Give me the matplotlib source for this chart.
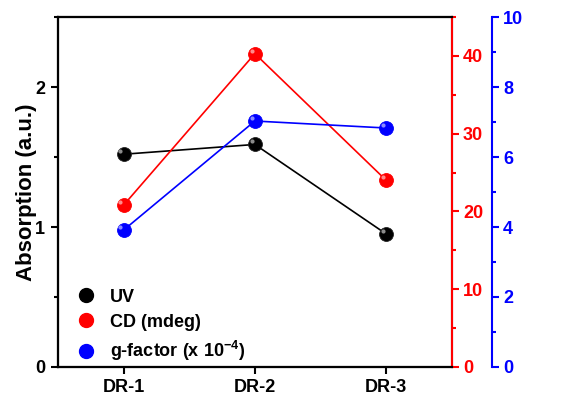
import matplotlib.pyplot as plt
from matplotlib.lines import Line2D
from matplotlib.ticker import MultipleLocator
from matplotlib.transforms import offset_copy

plt.rcParams["font.family"] = ["Liberation Sans", "DejaVu Sans"]
plt.rcParams["font.weight"] = "bold"
plt.rcParams["mathtext.fontset"] = "custom"
plt.rcParams["mathtext.bf"] = "Liberation Sans:bold"
plt.rcParams["mathtext.default"] = "bf"

samples = ["DR-1", "DR-2", "DR-3"]
uv = [1.52, 1.59, 0.95]
cd = [20.8, 40.3, 24.0]
gfactor = [3.91, 7.03, 6.83]

xpos = [1, 2, 3]
MS = 10
FS = 13


def sphere(ax, y, color, fig):
    ax.plot(xpos, y, "-", color=color, lw=1.2, zorder=2)
    ax.plot(xpos, y, "o", color=color, ms=MS, mec="#222222" if color == "black" else color,
            mew=0.6, zorder=3)
    hl = offset_copy(ax.transData, fig=fig, x=-2.2, y=2.2, units="points")
    ax.plot(xpos, y, "o", color="white", alpha=0.55, ms=3, mew=0, transform=hl, zorder=4)


fig = plt.figure(figsize=(5.67, 3.98), dpi=100)
ax = fig.add_axes([0.102, 0.078, 0.695, 0.879])
ax2 = ax.twinx()
ax3 = ax.twinx()
ax3.spines["right"].set_position(("axes", 1.1015))

sphere(ax, uv, "black", fig)
sphere(ax2, cd, "red", fig)
sphere(ax3, gfactor, "blue", fig)

ax.set_xlim(0.5, 3.5)
ax.set_ylim(0, 2.5)
ax2.set_ylim(0, 45)
ax3.set_ylim(0, 10)

ax.set_xticks(xpos)
ax.set_xticklabels(samples, fontsize=FS, fontweight="bold")
ax.yaxis.set_major_locator(MultipleLocator(1))
ax.yaxis.set_minor_locator(MultipleLocator(0.5))
ax2.yaxis.set_major_locator(MultipleLocator(10))
ax2.yaxis.set_minor_locator(MultipleLocator(5))
ax3.yaxis.set_major_locator(MultipleLocator(2))
ax3.yaxis.set_minor_locator(MultipleLocator(1))

ax.set_ylabel("Absorption (a.u.)", fontsize=16, fontweight="bold", labelpad=-1)

for a in (ax, ax2, ax3):
    for s in a.spines.values():
        s.set_linewidth(1.5)
ax.tick_params(axis="both", which="major", length=5, width=1.5, labelsize=FS, pad=4)
ax.tick_params(axis="y", which="minor", length=3, width=1.5)
ax.tick_params(axis="x", which="minor", length=0)

ax2.spines["right"].set_color("red")
ax2.tick_params(axis="y", which="major", colors="red", length=5, width=1.5, labelsize=FS, pad=3)
ax2.tick_params(axis="y", which="minor", colors="red", length=3, width=1.5)

ax3.spines["right"].set_color("blue")
ax3.tick_params(axis="y", which="major", colors="blue", length=5, width=1.5, labelsize=FS, pad=3)
ax3.tick_params(axis="y", which="minor", colors="blue", length=3, width=1.5)
for a in (ax, ax2, ax3):
    for lab in a.get_yticklabels():
        lab.set_fontweight("bold")

handles = [
    Line2D([], [], ls="none", marker="o", color=c, ms=MS, mec=c)
    for c in ("black", "red", "blue")
]
labels = ["UV", "CD (mdeg)", "g-factor (x 10$^{-4}$)"]
ax3.legend(handles, labels, loc="lower left", bbox_to_anchor=(-0.005, -0.035), frameon=False,
           prop={"size": FS, "weight": "bold"}, handletextpad=0.6, labelspacing=0.45,
           handlelength=1.5)

fig.savefig("out.png", dpi=100)
